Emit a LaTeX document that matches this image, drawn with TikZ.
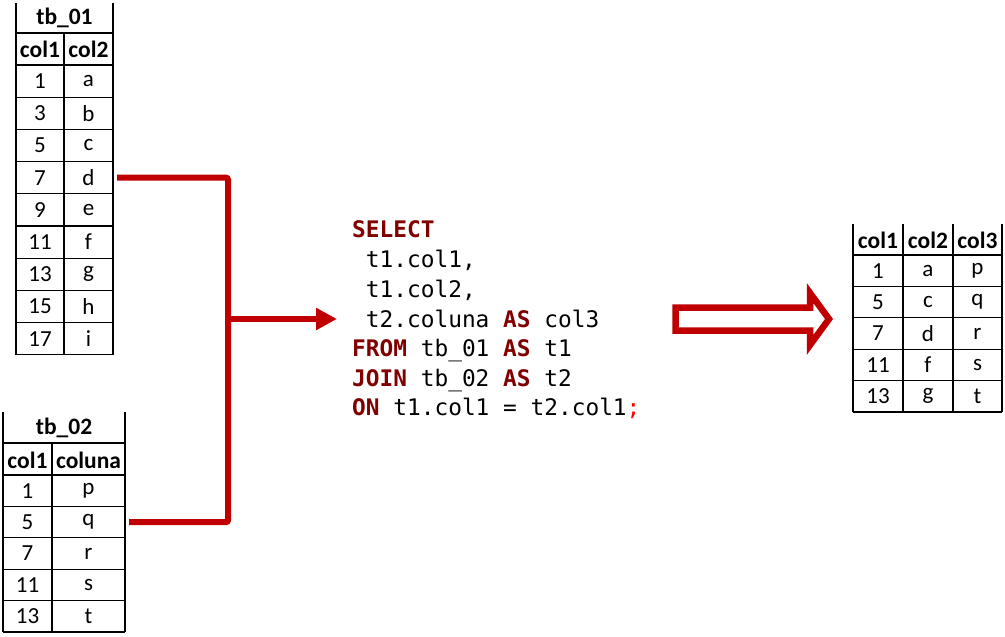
\documentclass[tikz,border=0pt]{standalone}
\usepackage{fontspec}
\setmainfont{Carlito}
\newfontfamily\codefont{DejaVu Sans Mono}
\usetikzlibrary{arrows.meta}
\definecolor{kw}{RGB}{128,0,0}
\definecolor{semi}{RGB}{255,0,0}
\definecolor{conn}{RGB}{192,0,0}
\tikzset{
  grid line/.style={line width=1.2pt, black},
  cell/.style={inner sep=0pt, font=\fontsize{23}{26}\selectfont},
  hcell/.style={inner sep=0pt, font=\fontsize{23.5}{27}\selectfont\bfseries},
  codeline/.style={anchor=base west, inner sep=0pt, font=\codefont\fontsize{22.8}{28}\selectfont},
  redline/.style={line width=6pt, conn, rounded corners=2pt},
  hollow/.style={line width=6.5pt, conn, line join=miter}
}
\newcommand{\kwd}[1]{\textcolor{kw}{\bfseries #1}}
\begin{document}
\begin{tikzpicture}[x=1pt,y=-1pt]
\useasboundingbox (0,0) rectangle (1005,637);
% ---------- tb_01 ----------
\foreach \yy in {33,65} \draw[grid line] (16,\yy) -- (113,\yy);
\foreach \i in {1,...,9} \draw[grid line] (16,{65+32.2*\i}) -- (113,{65+32.2*\i});
\draw[grid line] (16,3) -- (16,355);
\draw[grid line] (113,3) -- (113,355);
\draw[grid line] (64,33) -- (64,355);
\node[hcell] (t1title) at (64.5,18) {tb\_01};
\node[hcell] (t1h1) at (40,49) {col1};
\node[hcell] (t1h2) at (88.5,49) {col2};
\foreach \n/\l [count=\i] in {1/a,3/b,5/c,7/d,9/e,11/f,13/g,15/h,17/i}{
  \node[cell, minimum width=48pt, minimum height=32pt] (t1a\i) at (40,{65+32.2*(\i-0.5)}) {\n};
  \node[cell, minimum width=49pt, minimum height=32pt] (t1b\i) at (88.5,{65+32.2*(\i-0.5)}) {\l};
}
% ---------- tb_02 ----------
\foreach \yy in {443,475} \draw[grid line] (3,\yy) -- (125,\yy);
\foreach \i in {1,...,5} \draw[grid line] (3,{475+31.4*\i}) -- (125,{475+31.4*\i});
\draw[grid line] (3,412) -- (3,632);
\draw[grid line] (125,412) -- (125,632);
\draw[grid line] (52,443) -- (52,632);
\node[hcell] (t2title) at (64,428) {tb\_02};
\node[hcell] (t2h1) at (27.5,460) {col1};
\node[hcell] (t2h2) at (88.5,460) {coluna};
\foreach \n/\l [count=\i] in {1/p,5/q,7/r,11/s,13/t}{
  \node[cell, minimum width=49pt, minimum height=31pt] (t2a\i) at (27.5,{475+31.4*(\i-0.5)}) {\n};
  \node[cell, minimum width=73pt, minimum height=31pt] (t2b\i) at (88.5,{475+31.4*(\i-0.5)}) {\l};
}
% ---------- result ----------
\draw[grid line] (853,255) -- (1002,255);
\foreach \i in {1,...,5} \draw[grid line] (853,{255+31.4*\i}) -- (1002,{255+31.4*\i});
\foreach \xx in {853,903,953,1002} \draw[grid line] (\xx,224) -- (\xx,412);
\node[hcell] (rh1) at (878,240) {col1};
\node[hcell] (rh2) at (928,240) {col2};
\node[hcell] (rh3) at (977.5,240) {col3};
\foreach \n/\l/\m [count=\i] in {1/a/p,5/c/q,7/d/r,11/f/s,13/g/t}{
  \node[cell] (ra\i) at (878,{255+31.4*(\i-0.5)}) {\n};
  \node[cell] (rb\i) at (928,{255+31.4*(\i-0.5)}) {\l};
  \node[cell] (rc\i) at (977.5,{255+31.4*(\i-0.5)}) {\m};
}
% ---------- code ----------
\node[codeline] (c1) at (352,237) {\kwd{SELECT}};
\node[codeline] (c2) at (352,267) {\ t1.col1,};
\node[codeline] (c3) at (352,297) {\ t1.col2,};
\node[codeline] (c4) at (352,327) {\ t2.coluna \kwd{AS} col3};
\node[codeline] (c5) at (352,356.5) {\kwd{FROM} tb\_01 \kwd{AS} t1};
\node[codeline] (c6) at (352,386) {\kwd{JOIN} tb\_02 \kwd{AS} t2};
\node[codeline] (c7) at (352,415.5) {\kwd{ON} t1.col1 = t2.col1\textcolor{semi}{;}};
% ---------- connectors ----------
\coordinate (join) at (228,319);
\coordinate (joinend) at (337,319);
\draw[redline] ([xshift=4pt]t1b4.east) -| (join) |- ([xshift=4pt]t2b2.east);
\draw[line width=6pt, conn, -{Triangle[length=21pt,width=21pt]}] (join) -- (joinend);
% ---------- hollow arrow ----------
\draw[hollow] (675.5,307.5) -- (810,307.5) -- (810,293) -- (829,319) -- (810,345) -- (810,330.5) -- (675.5,330.5) -- cycle;
\end{tikzpicture}
\end{document}
